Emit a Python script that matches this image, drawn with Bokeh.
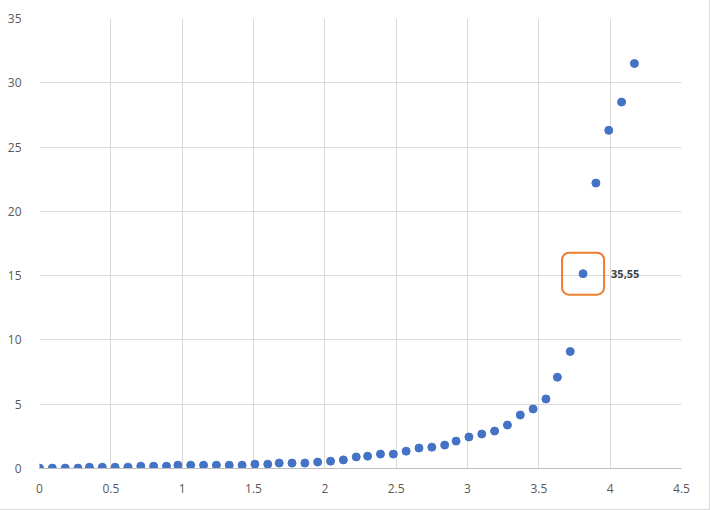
from bokeh.plotting import figure
from bokeh.models import Range1d, FixedTicker, BoxAnnotation, ColumnDataSource
from bokeh.core.properties import value
from bokeh.embed import file_html
from bokeh.resources import INLINE

x_vals = [0, 0.09, 0.18, 0.27, 0.35, 0.44, 0.53, 0.62, 0.71, 0.80, 0.89, 0.97,
          1.06, 1.15, 1.24, 1.33, 1.42, 1.51, 1.60, 1.68, 1.77, 1.86, 1.95, 2.04,
          2.13, 2.22, 2.30, 2.39, 2.48, 2.57, 2.66, 2.75, 2.84, 2.92, 3.01, 3.10,
          3.19, 3.28, 3.37, 3.46, 3.55, 3.63, 3.72, 3.81, 3.90, 3.99, 4.08, 4.17]
y_vals = [0.03, 0.03, 0.03, 0.03, 0.10, 0.10, 0.10, 0.10, 0.18, 0.18, 0.18, 0.26,
          0.26, 0.26, 0.26, 0.26, 0.26, 0.34, 0.34, 0.42, 0.42, 0.42, 0.50, 0.57,
          0.67, 0.90, 0.96, 1.12, 1.12, 1.35, 1.59, 1.66, 1.82, 2.13, 2.45, 2.68,
          2.91, 3.38, 4.16, 4.63, 5.41, 7.10, 9.10, 15.15, 22.2, 26.3, 28.5, 31.5]

x_ticks = [0, 0.5, 1, 1.5, 2, 2.5, 3, 3.5, 4, 4.5]
x_tick_labels = ["0", "0.5", "1", "1.5", "2", "2.5", "3", "3.5", "4", "4.5"]
y_ticks = [0, 5, 10, 15, 20, 25, 30, 35]
y_tick_labels = ["0", "5", "10", "15", "20", "25", "30", "35"]

highlight_index = 43
highlight_label = "35,55"

FONT = "Open Sans"
W, H = 709, 509
BL, BR, BT, BB = 39, 28, 18, 41

p = figure(width=W, height=H, output_backend="svg", toolbar_location=None,
           x_range=Range1d(0, 4.5), y_range=Range1d(0, 35),
           min_border_left=BL, min_border_right=BR, min_border_top=BT,
           min_border_bottom=BB)
p.outline_line_color = None
p.background_fill_color = "white"
p.border_fill_color = "white"
p.styles = {"outline": "1px solid #d9d9d9"}

for ax, ticks, labels in ((p.xaxis[0], x_ticks, x_tick_labels), (p.yaxis[0], y_ticks, y_tick_labels)):
    ax.ticker = FixedTicker(ticks=ticks)
    ax.major_label_overrides = {t: l for t, l in zip(ticks, labels)}
    ax.major_tick_line_color = None
    ax.minor_tick_line_color = None
    ax.major_label_text_font = FONT
    ax.major_label_text_font_size = "12px"
    ax.major_label_text_color = "#595959"

p.xaxis.axis_line_color = "#bfbfbf"
p.xaxis.major_label_standoff = 9
p.yaxis.axis_line_color = None
p.yaxis.major_label_standoff = 12

p.xgrid.ticker = FixedTicker(ticks=x_ticks)
p.ygrid.ticker = FixedTicker(ticks=y_ticks)
p.xgrid.grid_line_color = "#d9d9d9"
p.ygrid.grid_line_color = "#d9d9d9"

src = ColumnDataSource(dict(x=x_vals, y=y_vals))
p.scatter("x", "y", source=src, size=8, fill_color="#4472C4", line_color="#4472C4")

hx = x_vals[highlight_index]
hy = y_vals[highlight_index]
px_x = (W - BL - BR) / 4.5
px_y = (H - BT - BB) / 35
half = 21
box = BoxAnnotation(left=hx - half / px_x, right=hx + half / px_x,
                    bottom=hy - half / px_y, top=hy + half / px_y,
                    fill_color=None, fill_alpha=0, line_color="#ED7D31",
                    line_alpha=1.0, line_width=2, border_radius=7)
p.add_layout(box)

p.text(x=[hx], y=[hy], text=[highlight_label], x_offset=28,
       text_baseline="middle", text_align="left",
       text_font=value(FONT), text_font_size="11px", text_font_style="bold",
       text_color="#404040")

open("out.html", "w").write(file_html(p, INLINE))
